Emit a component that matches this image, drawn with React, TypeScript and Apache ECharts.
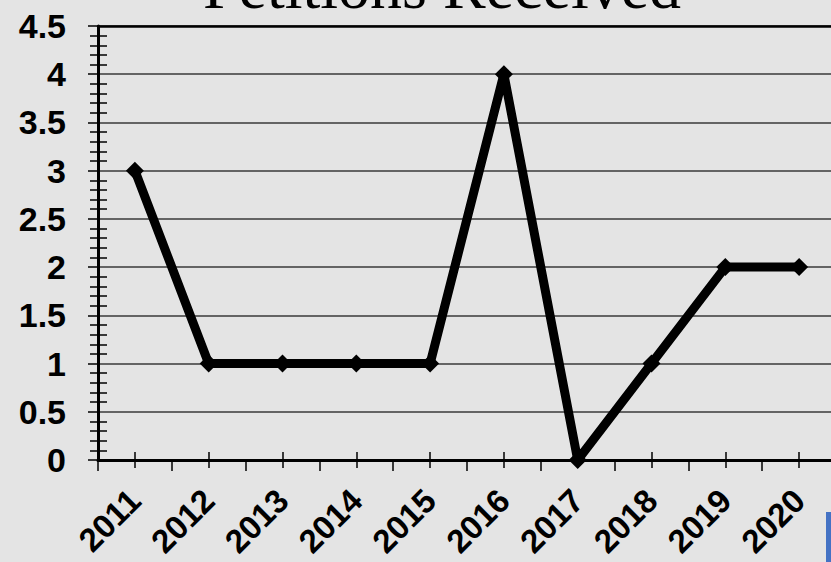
import React, { useEffect, useRef } from "react";
import * as echarts from "echarts";

const years = ["2011", "2012", "2013", "2014", "2015", "2016", "2017", "2018", "2019", "2020"];
const petitions = [3, 1, 1, 1, 1, 4, 0, 1, 2, 2];
const titleText = "Petitions Received";

export default function App() {
  const ref = useRef<HTMLDivElement>(null);
  useEffect(() => {
    document.body.style.margin = "0";
    const chart = echarts.init(ref.current!, null, { renderer: "svg" });
    const font = "'Liberation Sans', Arial, sans-serif";
    const catAxisBase = {
      type: "category" as const,
      data: years,
      gridIndex: 0,
      boundaryGap: true,
      axisLabel: { show: false },
      splitLine: { show: false },
    };
    chart.setOption({
      animation: false,
      backgroundColor: "#e4e4e4",
      grid: { left: 98, top: 26, right: -5, bottom: 102, containLabel: false, outerBoundsMode: "none" },
      graphic: [
        {
          type: "text",
          x: 442,
          y: -14,
          style: {
            text: titleText,
            font: "64px 'Liberation Serif', 'Times New Roman', serif",
            fill: "#000",
            align: "center",
            verticalAlign: "middle",
          },
        },
        {
          type: "rect",
          shape: { x: 826, y: 512, width: 5, height: 50 },
          style: { fill: "#4472C4" },
        },
      ],
      xAxis: [
        {
          ...catAxisBase,
          position: "bottom",
          axisLine: { show: true, lineStyle: { color: "#000", width: 3 } },
          axisTick: { show: true, length: 11, lineStyle: { color: "#000", width: 1.5 } },
          axisLabel: {
            show: true,
            rotate: 45,
            margin: 35,
            fontSize: 33,
            fontWeight: "bold",
            fontFamily: font,
            color: "#000",
            hideOverlap: false,
          },
        },
        {
          ...catAxisBase,
          position: "bottom",
          axisLine: { show: false },
          axisTick: { show: true, alignWithLabel: true, inside: true, length: 8, lineStyle: { color: "#000", width: 1.5 } },
        },
        {
          ...catAxisBase,
          position: "bottom",
          axisLine: { show: false },
          axisTick: { show: true, alignWithLabel: true, inside: false, length: 8, lineStyle: { color: "#000", width: 1.5 } },
        },
        {
          ...catAxisBase,
          position: "top",
          axisLine: { show: true, lineStyle: { color: "#000", width: 2.5 } },
          axisTick: { show: false },
        },
      ],
      yAxis: [
        {
          type: "value",
          position: "left",
          min: 0,
          max: 4.5,
          interval: 0.5,
          axisLine: { show: true, lineStyle: { color: "#000", width: 3 } },
          axisTick: { show: true, length: 10, lineStyle: { color: "#000", width: 1.5 } },
          minorTick: { show: true, splitNumber: 5, length: 8, lineStyle: { color: "#000", width: 1.5 } },
          splitLine: { show: true, lineStyle: { color: "#3a3a3a", width: 1.5 } },
          axisLabel: {
            margin: 32,
            fontSize: 34,
            fontWeight: "bold",
            fontFamily: font,
            color: "#000",
          },
        },
        {
          type: "value",
          position: "left",
          min: 0,
          max: 4.5,
          interval: 0.5,
          axisLine: { show: false },
          axisTick: { show: false, inside: true },
          minorTick: { show: true, splitNumber: 5, length: 9, lineStyle: { color: "#000", width: 1.5 } },
          splitLine: { show: false },
          axisLabel: { show: false },
        },
      ],
      series: [
        {
          type: "line",
          xAxisIndex: 0,
          yAxisIndex: 0,
          data: petitions,
          symbol: "diamond",
          symbolSize: 18,
          lineStyle: { color: "#000", width: 9 },
          itemStyle: { color: "#000" },
          z: 10,
        },
      ],
    });
    return () => chart.dispose();
  }, []);
  return <div ref={ref} style={{ width: 831, height: 562 }} />;
}
